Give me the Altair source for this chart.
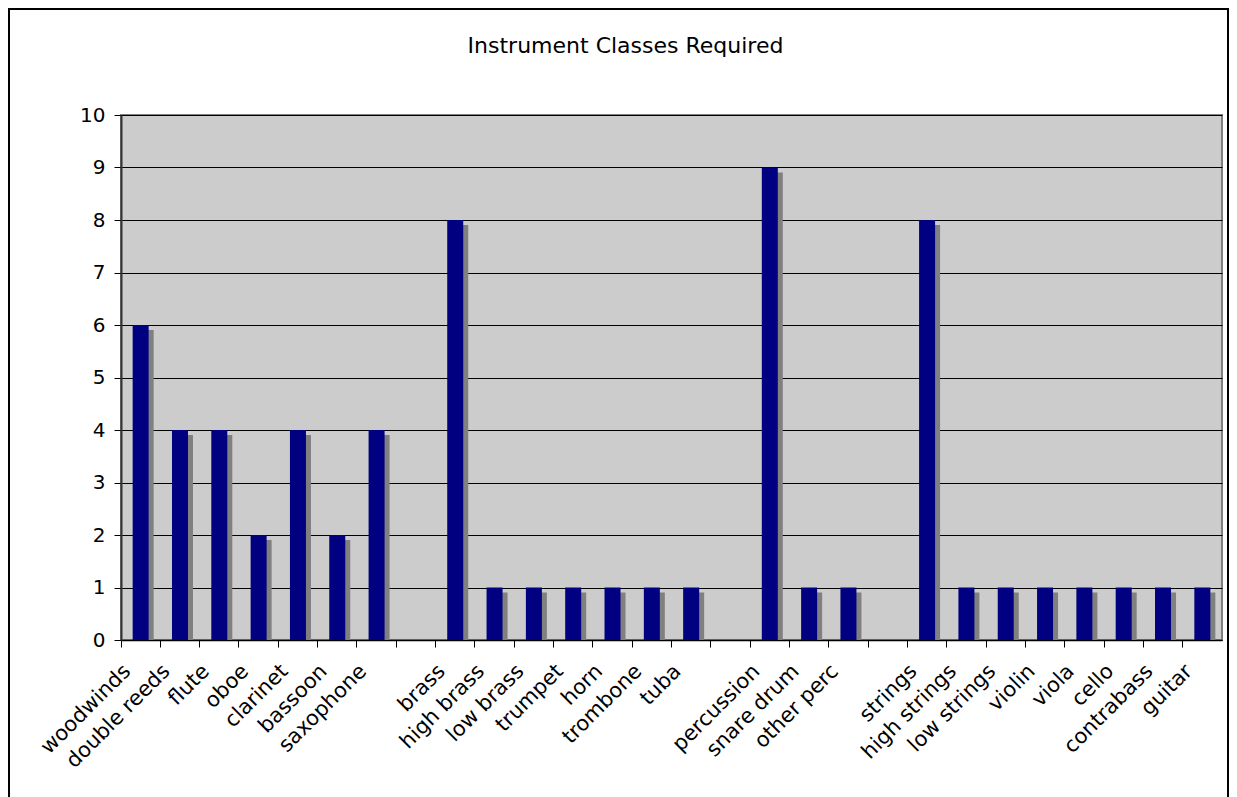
import altair as alt
import pandas as pd

categories = [
    "woodwinds", "double reeds", "flute", "oboe", "clarinet", "bassoon", "saxophone", " ",
    "brass", "high brass", "low brass", "trumpet", "horn", "trombone", "tuba", "  ",
    "percussion", "snare drum", "other perc", "   ",
    "strings", "high strings", "low strings", "violin", "viola", "cello", "contrabass", "guitar",
]
values = [6, 4, 4, 2, 4, 2, 4, None,
          8, 1, 1, 1, 1, 1, 1, None,
          9, 1, 1, None,
          8, 1, 1, 1, 1, 1, 1, 1]
title_text = "Instrument Classes Required"

df = pd.DataFrame({"cat": categories, "val": values})

W, H = 1101, 525
FONT = "DejaVu Sans"

x_enc = alt.X(
    "cat:N", sort=categories,
    scale=alt.Scale(paddingInner=0, paddingOuter=0),
    axis=alt.Axis(
        title=None, bandPosition=0, labelAngle=-45, labelOffset=-21,
        labelFontSize=21, labelFont=FONT, labelColor="black", labelPadding=13,
        tickColor="black", tickSize=7, domainColor="black", domainWidth=1.5,
        grid=False,
    ),
)
y_enc = alt.Y(
    "val:Q", scale=alt.Scale(domain=[0, 10], nice=False),
    axis=alt.Axis(
        title=None, values=list(range(0, 11)), labelFontSize=20, labelFont=FONT,
        labelColor="black", labelPadding=9, tickColor="black", tickSize=7,
        domainColor="#333333", domainWidth=2, grid=True, gridColor="black",
        gridWidth=1,
    ),
)

base = alt.Chart(df)
shadow = base.mark_bar(size=16, color="#808080", xOffset=5, yOffset=5, clip=True).encode(
    x=x_enc, y=y_enc
)
bars = base.mark_bar(size=16, color="#000080").encode(x=x_enc, y=y_enc)

frame = alt.Chart(pd.DataFrame({"a": [0]})).mark_rect(
    filled=False, stroke="black", strokeWidth=2
).encode(
    x=alt.value(-112), x2=alt.value(1107), y=alt.value(-106), y2=alt.value(760)
)

chart = alt.layer(shadow, bars, frame).properties(
    width=W, height=H,
    title=alt.TitleParams(title_text, fontSize=22, font=FONT, fontWeight="normal",
                          color="black", offset=-50, dx=-46, anchor="middle"),
    autosize=alt.AutoSizeParams(type="none"),
    padding={"left": 113, "top": 107, "right": 7, "bottom": 157},
).configure(
    background="white"
).configure_view(
    fill="#cccccc", stroke="#808080", strokeWidth=2
)

chart.save("out.html", embed_options={"renderer": "svg", "actions": False})
